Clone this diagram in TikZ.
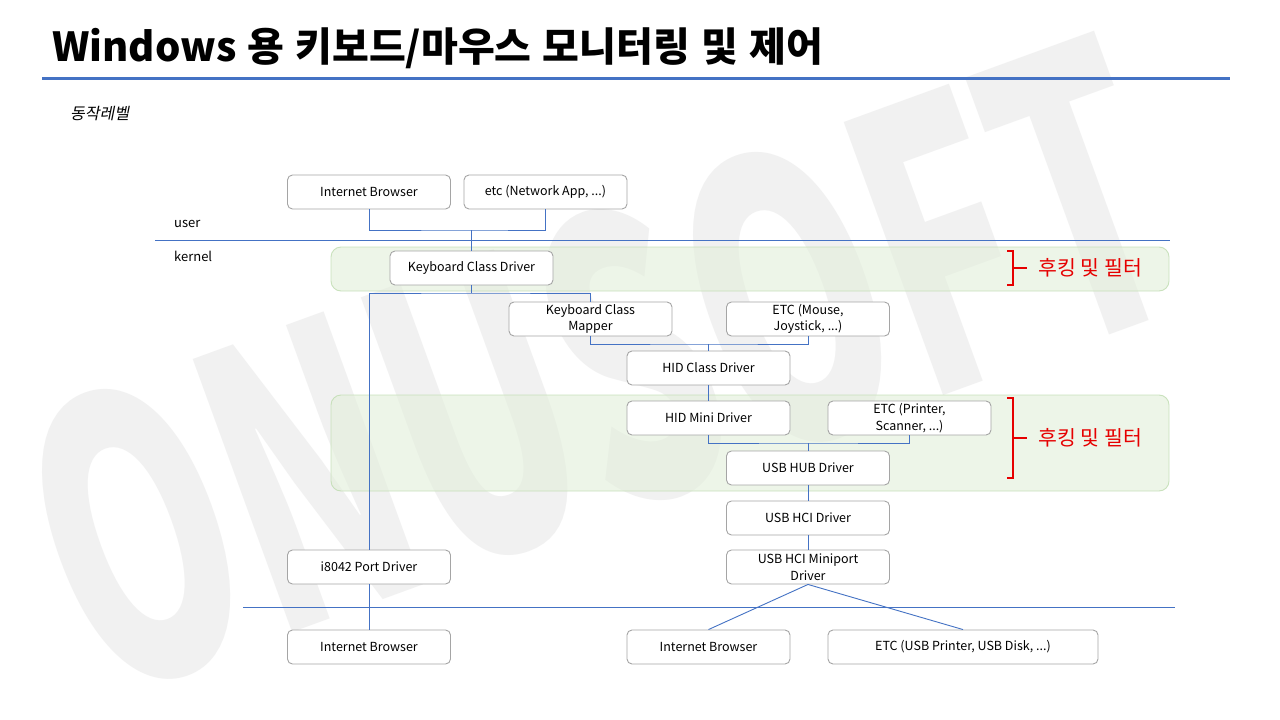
\documentclass[tikz,border=0pt]{standalone}
\usepackage{fontspec}
\usepackage{graphicx}
\newfontfamily\kr{Noto Sans CJK KR}
\newfontfamily\krit[FakeSlant=0.2]{Noto Sans CJK KR}
\definecolor{lineblue}{RGB}{68,114,196}
\definecolor{boxgray}{RGB}{165,165,165}
\definecolor{bandfill}{RGB}{226,239,218}
\definecolor{bandline}{RGB}{190,220,175}
\definecolor{wm}{RGB}{241,241,241}
\definecolor{hookred}{RGB}{230,0,0}
\tikzset{
  box/.style={draw=boxgray, line width=0.9pt, fill=white, rounded corners=5pt,
    minimum width=163pt, minimum height=34pt, inner sep=0pt, align=center,
    font=\kr\fontsize{12.5}{16.5}\selectfont},
  band/.style={draw=bandline, line width=0.9pt, fill=bandfill, fill opacity=0.6, draw opacity=0.8, rounded corners=10pt},
  conn/.style={draw=lineblue, line width=0.9pt},
  sep/.style={draw=lineblue, line width=0.9pt},
  bracket/.style={draw=hookred, line width=2pt},
  hooktext/.style={text=hookred, font=\kr\fontsize{20.5}{22}\selectfont, anchor=west},
  lvl/.style={font=\kr\fontsize{13}{15}\selectfont, anchor=base west}
}
\begin{document}
\begin{tikzpicture}[x=1pt,y=-1pt]
\useasboundingbox (0,0) rectangle (1280,720);
\fill[white] (0,0) rectangle (1280,720);
% watermark
\node[rotate=20, text=wm, inner sep=0pt] (wmark) at (600,366) {\resizebox{1170pt}{295pt}{\kr\bfseries ONUSOFT}};
% title
\node[anchor=base west, inner sep=0pt, font=\kr\bfseries\fontsize{40}{42}\selectfont] (title) at (52,61) {Windows\hspace{2pt} 용\hspace{2pt} 키보드/마우스\hspace{2pt} 모니터링\hspace{2pt} 및\hspace{2pt} 제어};
\draw[draw=lineblue, line width=3pt] (42,78) coordinate (tl1) -- (1230,78) coordinate (tl2);
\node[anchor=base west, inner sep=0pt, font=\krit\fontsize{16}{18}\selectfont] (lev) at (70,119) {동작레벨};
% bands
\path[band] (331,247) rectangle (1169,291);
\path[band] (331,395) rectangle (1169,491);
% separators
\node[lvl, inner sep=0pt] (user) at (174,227) {user};
\node[lvl, inner sep=0pt] (kernel) at (174,261) {kernel};
\draw[sep] (155,240) coordinate (s1a) -- (1170,240) coordinate (s1b);
\draw[sep] (243,607) coordinate (s2a) -- (1175,607) coordinate (s2b);
% boxes
\node[box] (ib1) at (369,192) {Internet Browser};
\node[box] (etc1) at (545.5,192) {etc (Network App, ...)};
\node[box] (kcd) at (471.5,268) {Keyboard Class Driver};
\node[box] (kcm) at (590.5,319) {Keyboard Class\\Mapper};
\node[box] (etcm) at (808,319) {ETC (Mouse,\\Joystick, ...)};
\node[box] (hidc) at (708.5,368) {HID Class Driver};
\node[box] (hidm) at (708.5,418) {HID Mini Driver};
\node[box] (etcp) at (909.5,418) {ETC (Printer,\\Scanner, ...)};
\node[box] (hub) at (808,468) {USB HUB Driver};
\node[box] (hci) at (808,518) {USB HCI Driver};
\node[box] (mini) at (808,567) {USB HCI Miniport\\Driver};
\node[box] (i8042) at (369,567) {i8042 Port Driver};
\node[box] (ib2) at (369,647) {Internet Browser};
\node[box] (ib3) at (708.5,647) {Internet Browser};
\node[box, minimum width=270pt] (etcu) at (963,647) {ETC (USB Printer, USB Disk, ...)};
% junctions
\coordinate (j1) at (471.5,230);
\coordinate (j2) at (471.5,293);
\coordinate (j3) at (708.5,344);
\coordinate (j4) at (808,443);
% connectors
\draw[conn] (ib1.south) |- (j1) -| (etc1.south);
\draw[conn] (j1) -- (kcd.north);
\draw[conn] (kcd.south) -- (j2);
\draw[conn] (i8042.north) |- (j2) -| (kcm.north);
\draw[conn] (kcm.south) |- (j3) -| (etcm.south);
\draw[conn] (j3) -- (hidc.north);
\draw[conn] (hidc.south) -- (hidm.north);
\draw[conn] (hidm.south) |- (j4) -| (etcp.south);
\draw[conn] (j4) -- (hub.north);
\draw[conn] (hub.south) -- (hci.north);
\draw[conn] (hci.south) -- (mini.north);
\draw[conn] (i8042.south) -- (ib2.north);
\draw[conn] (mini.south) -- (ib3.north);
\draw[conn] (mini.south) -- (etcu.north);
% brackets
\draw[bracket] (1007,251) -- (1013,251) -- (1013,285) -- (1007,285);
\draw[bracket] (1013,268) -- (1027,268);
\node[hooktext] (h1) at (1035,268) {후킹 및 필터};
\draw[bracket] (1007,398) -- (1013,398) -- (1013,478) -- (1007,478);
\draw[bracket] (1013,438) -- (1027,438);
\node[hooktext] (h2) at (1035,438) {후킹 및 필터};
\end{tikzpicture}
\end{document}
